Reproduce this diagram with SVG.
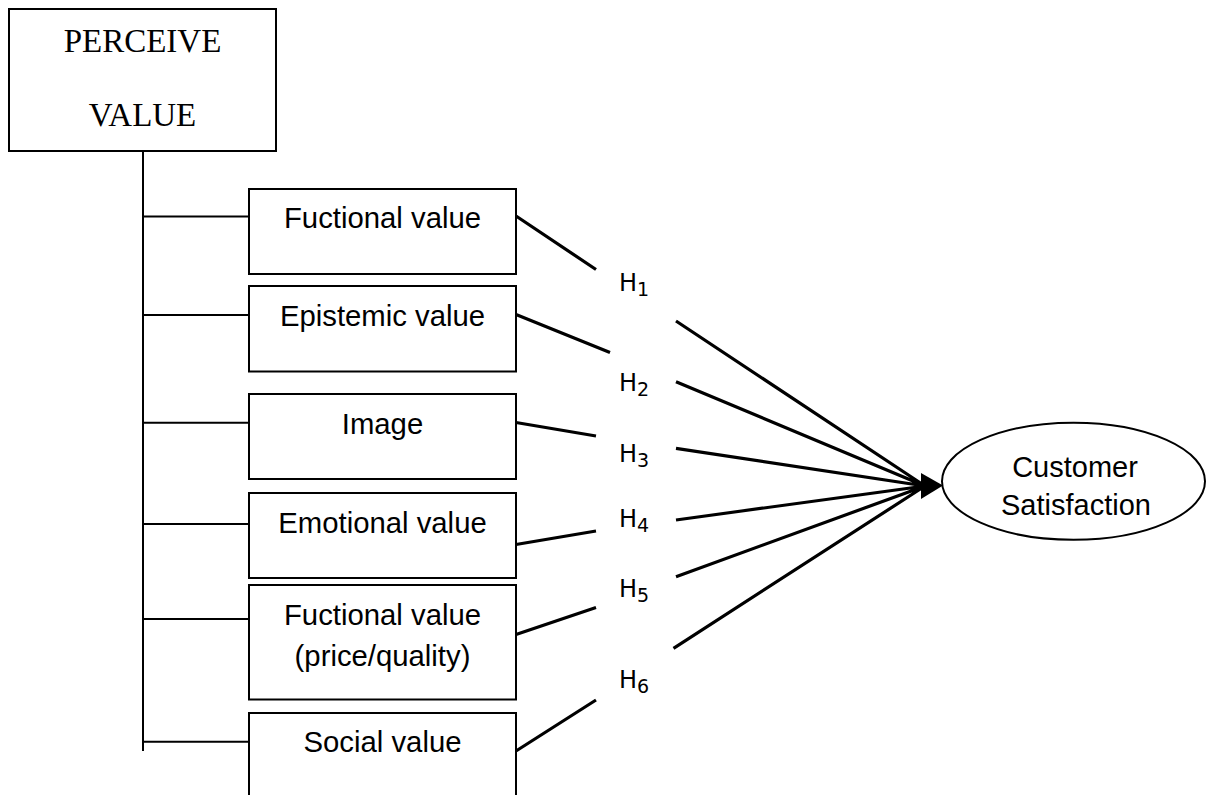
<svg xmlns="http://www.w3.org/2000/svg" width="1206" height="795" viewBox="0 0 1206 795">
<style>
.box{fill:#fff;stroke:#000;stroke-width:2}
.tree{stroke:#000;stroke-width:2;fill:none}
.diag{stroke:#000;stroke-width:3.2;fill:none;stroke-linecap:butt}
.lbl{font-family:"Liberation Sans",Arial,sans-serif;font-size:29.3px;text-anchor:middle;fill:#000}
.ser{font-family:"Liberation Serif","Times New Roman",serif;font-size:33px;text-anchor:middle;fill:#000}
.h{font-family:"DejaVu Sans",Verdana,sans-serif;font-size:24px;fill:#000}
.sub{font-size:19px}
</style>
<rect width="1206" height="795" fill="#fff"/>
<g id="connectors">
<path class="tree" d="M143 151V751M143 216.5H249M143 315H249M143 422.7H249M143 524H249M143 619H249M143 741.7H249"/>
<path class="diag" d="M516 216L596 269.5M516 314.5L610 352.5M516 422.5L596 436M516 544.5L596 531M516 634.5L596 607.5M516 751L596 700"/>
<path class="diag" d="M676 321L925 486M676 381.7L925 486M676 448.3L925 486M676 520L925 486M676 576.7L925 486M673.5 648.3L925 486"/>
<polygon points="921,473 943,485.5 921,499" fill="#000"/>
</g>
<g id="perceive">
<rect class="box" x="9" y="9" width="267" height="142"/>
<text class="ser" x="142.5" y="52">PERCEIVE</text>
<text class="ser" x="142.5" y="126">VALUE</text>
</g>
<g id="n1"><rect class="box" x="249" y="189" width="267" height="85"/><text class="lbl" x="382.5" y="228">Fuctional value</text></g>
<g id="n2"><rect class="box" x="249" y="286" width="267" height="85.5"/><text class="lbl" x="382.5" y="325.5">Epistemic value</text></g>
<g id="n3"><rect class="box" x="249" y="394" width="267" height="85"/><text class="lbl" x="382.5" y="434">Image</text></g>
<g id="n4"><rect class="box" x="249" y="493" width="267" height="85"/><text class="lbl" x="382.5" y="533">Emotional value</text></g>
<g id="n5"><rect class="box" x="249" y="585" width="267" height="114.5"/><text class="lbl" x="382.5" y="625">Fuctional value</text><text class="lbl" x="382.5" y="666">(price/quality)</text></g>
<g id="n6"><rect class="box" x="249" y="713" width="267" height="100"/><text class="lbl" x="382.5" y="752">Social value</text></g>
<g id="hlabels">
<text class="h" x="619" y="291">H<tspan class="sub" dy="5">1</tspan></text>
<text class="h" x="619" y="391">H<tspan class="sub" dy="5">2</tspan></text>
<text class="h" x="619" y="462">H<tspan class="sub" dy="5">3</tspan></text>
<text class="h" x="619" y="527">H<tspan class="sub" dy="5">4</tspan></text>
<text class="h" x="619" y="597">H<tspan class="sub" dy="5">5</tspan></text>
<text class="h" x="619" y="688">H<tspan class="sub" dy="5">6</tspan></text>
</g>
<g id="cs">
<ellipse cx="1073.5" cy="481.3" rx="131.5" ry="58.5" fill="#fff" stroke="#000" stroke-width="2"/>
<text class="lbl" x="1075" y="477" style="font-size:29px">Customer</text>
<text class="lbl" x="1076" y="515" style="font-size:29px">Satisfaction</text>
</g>
</svg>
